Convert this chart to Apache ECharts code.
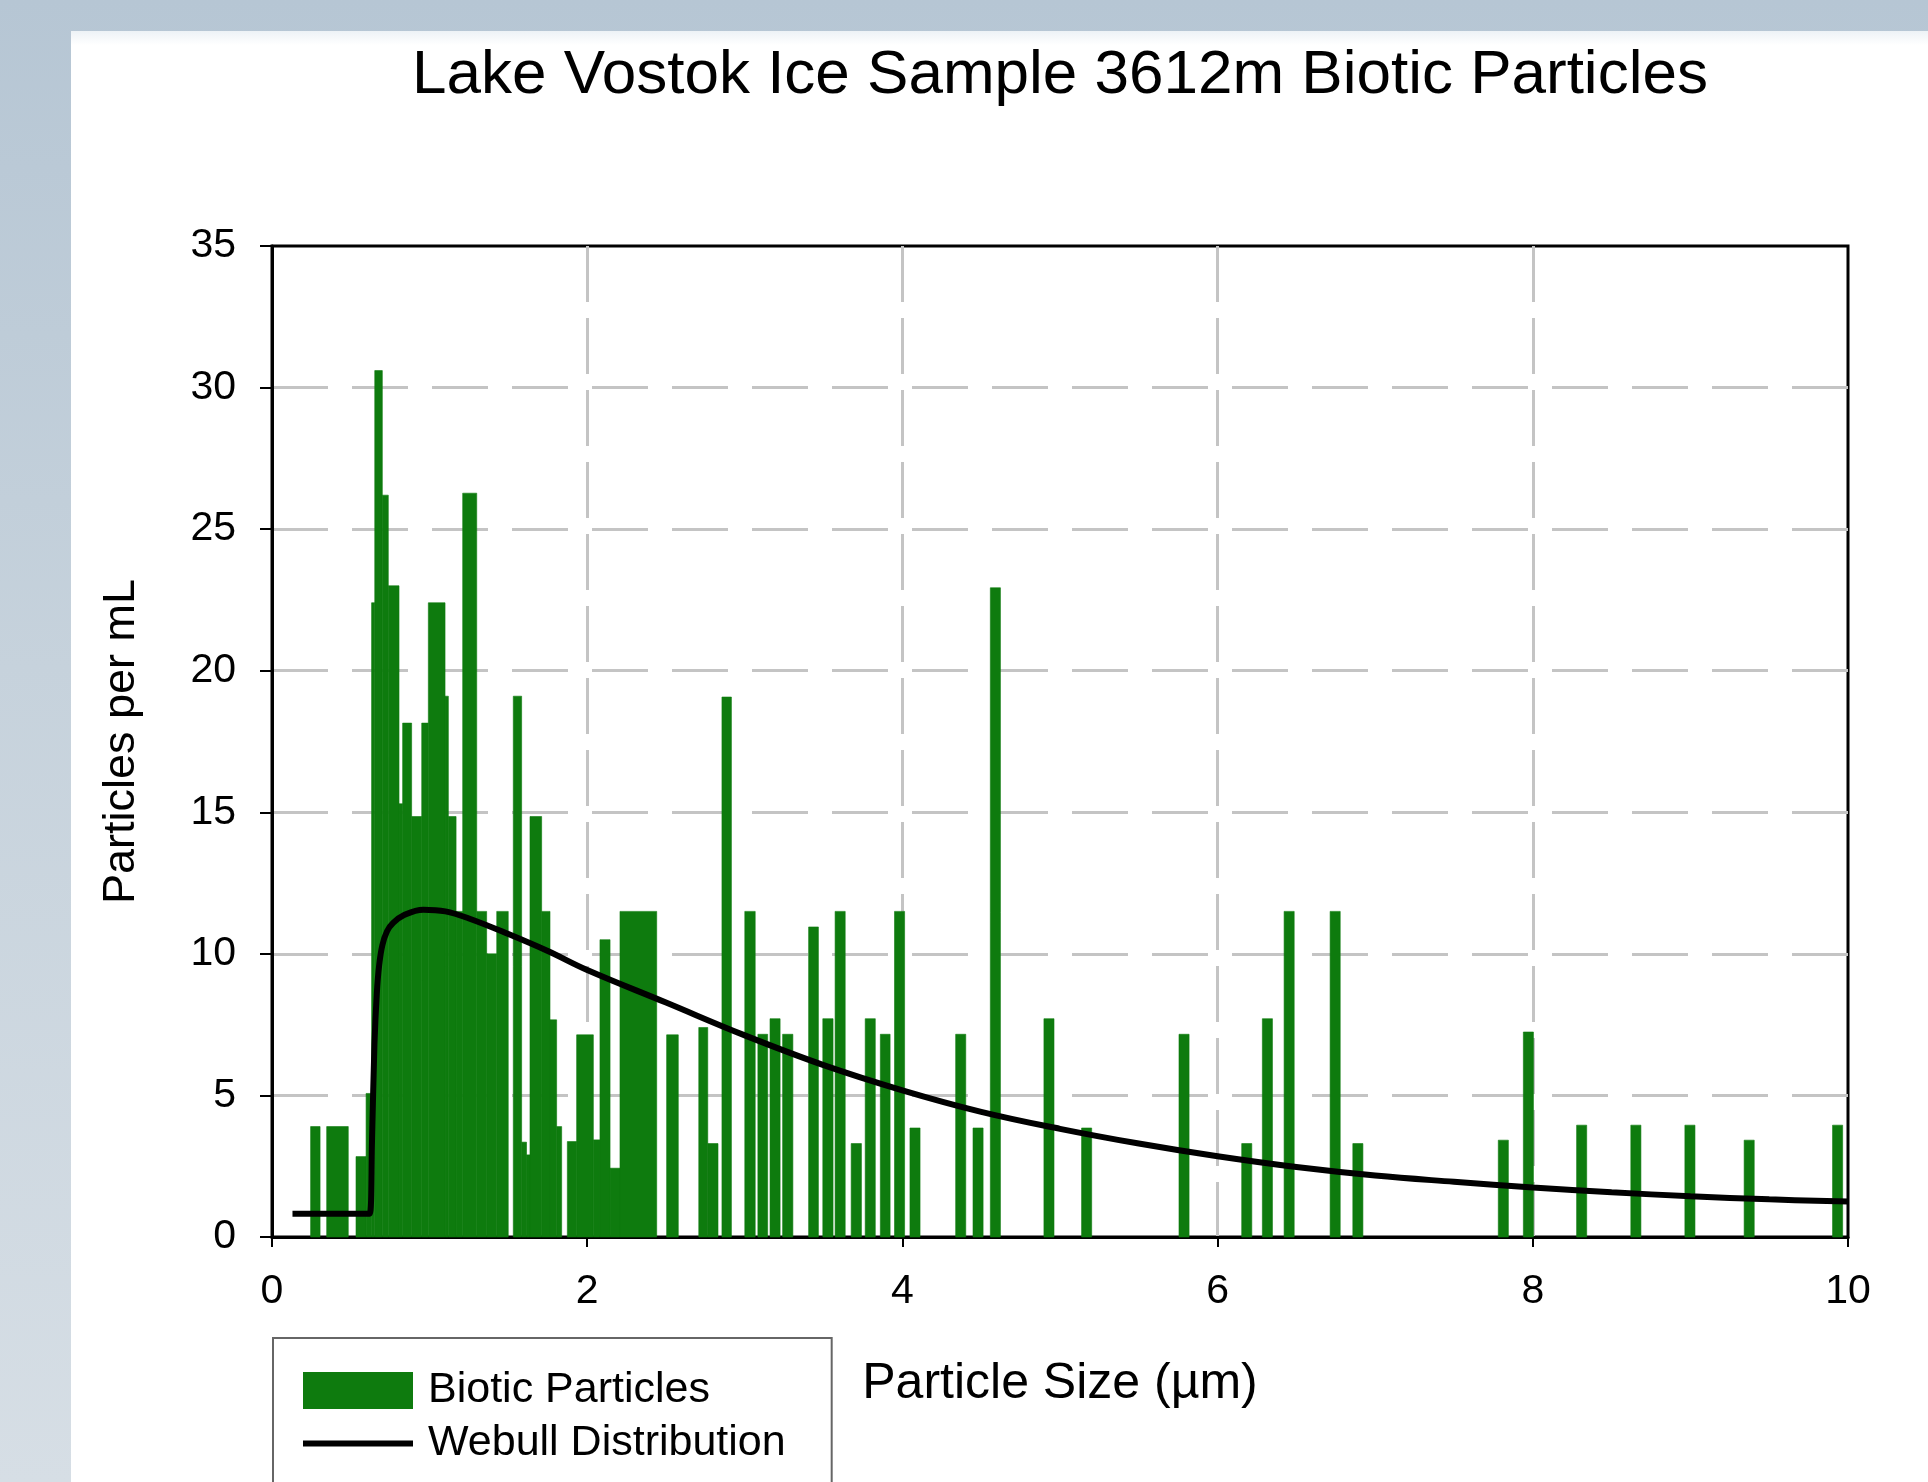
<!DOCTYPE html>
<html>
<head>
<meta charset="utf-8">
<title>Lake Vostok Ice Sample 3612m Biotic Particles</title>
<script src="https://cdn.jsdelivr.net/npm/echarts@6/dist/echarts.min.js"></script>
<style>
    html, body { margin: 0; padding: 0; width: 1928px; height: 1482px; overflow: hidden; }
    body { position: relative; background: linear-gradient(to bottom, #b6c6d4 0%, #c6d2dc 45%, #d6dee5 100%); }
    #panel { position: absolute; left: 71px; top: 31px; right: 0; bottom: 0; background: linear-gradient(to bottom, #edf2f6 0px, #ffffff 14px); }
    #chart { position: absolute; left: 0; top: 0; width: 1928px; height: 1482px; }
</style>
</head>
<body>
<div id="panel"></div>
<div id="chart"></div>
<script>
// 直方图分箱：起点、终点 (µm) 和每毫升颗粒数
var binLow = [0.245, 0.347, 0.533, 0.597, 0.632, 0.652, 0.700, 0.738, 0.806, 0.829,
    0.886, 0.950, 0.992, 1.098, 1.119, 1.168, 1.210, 1.299, 1.362, 1.426,
    1.531, 1.584, 1.615, 1.637, 1.711, 1.764, 1.806, 1.874, 1.933, 2.039,
    2.081, 2.145, 2.208, 2.504, 2.708, 2.765, 2.855, 3.000, 3.083, 3.160,
    3.240, 3.405, 3.495, 3.573, 3.675, 3.764, 3.860, 3.950, 4.048, 4.338,
    4.448, 4.558, 4.898, 5.137, 5.755, 6.153, 6.284, 6.422, 6.714, 6.858,
    7.781, 7.940, 8.278, 8.622, 8.965, 9.341, 9.902];
var binHigh = [0.305, 0.484, 0.597, 0.632, 0.652, 0.700, 0.738, 0.806, 0.829, 0.886,
    0.950, 0.992, 1.098, 1.119, 1.168, 1.210, 1.299, 1.362, 1.426, 1.499,
    1.584, 1.615, 1.637, 1.711, 1.764, 1.806, 1.838, 1.933, 2.039, 2.081,
    2.145, 2.208, 2.441, 2.578, 2.765, 2.830, 2.915, 3.066, 3.145, 3.224,
    3.305, 3.467, 3.560, 3.637, 3.740, 3.828, 3.922, 4.014, 4.112, 4.402,
    4.512, 4.622, 4.962, 5.201, 5.819, 6.217, 6.348, 6.486, 6.778, 6.922,
    7.845, 8.004, 8.342, 8.686, 9.029, 9.405, 9.966];
var particles = [3.9, 3.9, 2.84, 5.07, 22.4, 30.6, 26.2, 23.0, 15.3, 18.15,
    14.85, 18.15, 22.4, 19.1, 14.85, 11.5, 26.27, 11.5, 10.0, 11.5,
    19.1, 3.35, 2.9, 14.85, 11.5, 7.67, 3.9, 3.37, 7.14, 3.43,
    10.5, 2.43, 11.5, 7.14, 7.4, 3.3, 19.07, 11.5, 7.16, 7.71,
    7.16, 10.95, 7.71, 11.5, 3.3, 7.71, 7.16, 11.5, 3.85, 7.16,
    3.85, 22.93, 7.71, 3.85, 7.16, 3.3, 7.71, 11.5, 11.5, 3.3,
    3.42, 7.24, 3.95, 3.95, 3.95, 3.42, 3.95];

// Weibull 拟合曲线
var weibullX = [0.13, 0.60, 0.62, 0.635, 0.65, 0.665, 0.68, 0.70, 0.73, 0.77,
    0.83, 0.96, 1.10, 1.25, 1.50, 1.75, 2.00, 2.50, 3.00, 3.50,
    4.00, 4.50, 5.00, 5.50, 6.00, 6.50, 7.00, 7.50, 8.00, 8.50,
    9.00, 9.50, 10.00];
var weibullY = [0.82, 0.82, 0.82, 3.5, 6.8, 8.6, 9.6, 10.3, 10.8, 11.1,
    11.35, 11.56, 11.5, 11.25, 10.7, 10.1, 9.43, 8.28, 7.12, 6.07,
    5.18, 4.42, 3.82, 3.3, 2.85, 2.47, 2.17, 1.95, 1.75, 1.58,
    1.44, 1.33, 1.25];

var xTicks = [0, 2, 4, 6, 8, 10];
var yTicks = [0, 5, 10, 15, 20, 25, 30, 35];

var binData = binLow.map(function (lo, i) { return [lo, binHigh[i], particles[i]]; });
var curveData = weibullX.map(function (x, i) { return [x, weibullY[i]]; });

var font = 'Liberation Sans, Arial, sans-serif';
var barColor = '#0e7b0e';

// 用坐标轴换算每个分箱的矩形
function renderBin(params, api) {
    var top = api.coord([api.value(0), api.value(2)]);
    var base = api.coord([api.value(1), 0]);
    return {
        type: 'rect',
        shape: { x: top[0], y: top[1], width: base[0] - top[0], height: base[1] - top[1] },
        style: { fill: barColor, stroke: barColor, lineWidth: 0.6 }
    };
}

var chart = echarts.init(document.getElementById('chart'), null, { renderer: 'canvas' });

chart.setOption({
    backgroundColor: 'transparent',
    animation: false,
    title: {
        text: 'Lake Vostok Ice Sample 3612m Biotic Particles',
        left: 1060,
        top: 76,
        padding: 0,
        textAlign: 'center',
        textVerticalAlign: 'middle',
        textStyle: { fontFamily: font, fontSize: 62, fontWeight: 'normal', color: '#000' }
    },
    grid: {
        left: 272, right: 80, top: 246, bottom: 245,
        show: true, borderColor: '#000', borderWidth: 3, backgroundColor: 'transparent'
    },
    legend: {
        orient: 'vertical',
        left: 273,
        top: 1338,
        height: 400,
        padding: [31, 46, 40, 27],
        itemWidth: 110,
        itemHeight: 37,
        itemGap: 10,
        backgroundColor: '#fff',
        borderColor: '#666',
        borderWidth: 2,
        borderRadius: 0,
        textStyle: { fontFamily: font, fontSize: 43, color: '#000', lineHeight: 37, padding: [0, 0, 0, 10] },
        data: [
            { name: 'Biotic Particles', icon: 'rect', itemStyle: { color: barColor } },
            {
                name: 'Webull Distribution',
                itemStyle: { color: 'transparent', borderWidth: 0 },
                lineStyle: { color: '#000', width: 6 }
            }
        ]
    },
    xAxis: {
        type: 'value',
        min: 0, max: 10, interval: 2,
        name: 'Particle Size (µm)',
        nameLocation: 'middle',
        nameGap: 122,
        nameTextStyle: { fontFamily: font, fontSize: 50, color: '#000' },
        axisLine: { show: true, lineStyle: { color: '#000', width: 3 } },
        axisTick: { show: true, inside: false, length: 10, lineStyle: { color: '#000', width: 2 } },
        axisLabel: { fontFamily: font, fontSize: 41, color: '#000', margin: 34,
            formatter: function (v) { return xTicks.indexOf(v) >= 0 ? String(v) : ''; } },
        splitLine: { show: true, showMinLine: false, showMaxLine: false,
            lineStyle: { color: '#c4c4c4', width: 3, type: [56, 16] } }
    },
    yAxis: {
        type: 'value',
        min: 0, max: 35, interval: 5,
        name: 'Particles per mL',
        nameLocation: 'middle',
        nameRotate: 90,
        nameGap: 128,
        nameTextStyle: { fontFamily: font, fontSize: 45, color: '#000' },
        axisLine: { show: true, lineStyle: { color: '#000', width: 3 } },
        axisTick: { show: true, inside: false, length: 12, lineStyle: { color: '#000', width: 2 } },
        axisLabel: { fontFamily: font, fontSize: 41, color: '#000', margin: 36,
            formatter: function (v) { return yTicks.indexOf(v) >= 0 ? String(v) : ''; } },
        splitLine: { show: true, showMinLine: false, showMaxLine: false,
            lineStyle: { color: '#c4c4c4', width: 3, type: [56, 24] } }
    },
    series: [
        {
            name: 'Biotic Particles',
            type: 'custom',
            renderItem: renderBin,
            itemStyle: { color: barColor },
            encode: { x: [0, 1], y: 2 },
            data: binData,
            z: 2
        },
        {
            name: 'Webull Distribution',
            type: 'line',
            data: curveData,
            symbol: 'none',
            smooth: 0.4,
            lineStyle: { color: '#000', width: 6 },
            itemStyle: { color: '#000' },
            z: 3
        }
    ]
});
</script>
</body>
</html>
